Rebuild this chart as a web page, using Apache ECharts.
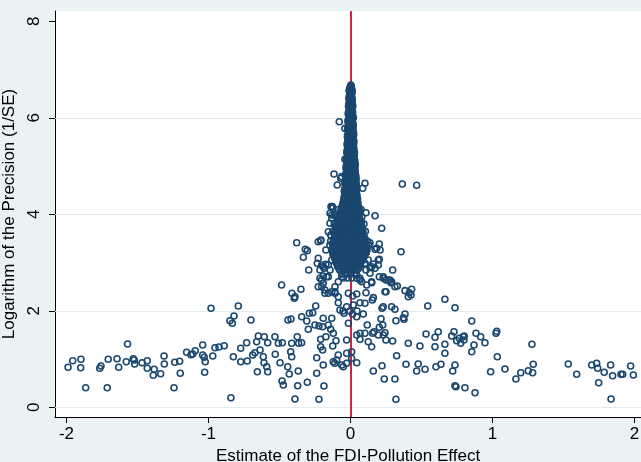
<!DOCTYPE html>
<html>
<head>
<meta charset="utf-8">
<script src="https://cdn.jsdelivr.net/npm/echarts@6/dist/echarts.min.js"></script>
<style>
html,body{margin:0;padding:0;background:#eaf2f3;}
#chart{width:641px;height:462px;}
</style>
</head>
<body>
<div id="chart"></div>
<script>
// Axis ticks
const xTicks = [-2, -1, 0, 1, 2];
const yTicks = [0, 2, 4, 6, 8];
const yGrid = [0, 2, 4, 6];

// Left tail estimates [estimate, log precision]
const leftPoints = [
[-1.989,0.829],[-1.956,0.966],[-1.898,0.995],[-1.900,0.821],[-1.865,0.406],[-1.766,0.808],[-1.757,0.856],[-1.713,0.406],
[-1.706,0.995],[-1.644,1.007],[-1.632,0.829],[-1.570,1.312],[-1.579,0.945],[-1.530,1.007],[-1.523,0.980],[-1.520,0.897],
[-1.468,0.924],[-1.431,0.966],[-1.431,0.808],[-1.389,0.663],[-1.382,0.788],[-1.337,0.696],[-1.313,1.063],[-1.311,0.897],
[-1.243,0.406],[-1.238,0.933],[-1.203,0.953],[-1.199,0.705],[-1.154,1.140],[-1.123,1.090],[-1.111,1.105],[-1.093,1.173],
[-1.041,1.291],[-1.041,1.084],[-1.030,1.036],[-1.023,0.945],[-1.027,0.725],[-0.982,2.052],[-0.970,1.063],[-0.954,1.235]
];

// Estimates left of zero, outside the dense core
const midLeftPoints = [
[-0.926,1.250],[-0.889,1.277],[-0.849,1.795],[-0.832,1.741],[-0.820,1.892],[-0.825,1.049],[-0.790,2.099],[-0.773,0.945],
[-0.773,1.223],[-0.731,1.339],[-0.727,0.960],[-0.701,1.809],[-0.689,1.084],[-0.673,1.132],[-0.661,1.360],[-0.649,1.478],
[-0.637,1.188],[-0.656,0.738],[-0.614,1.049],[-0.609,0.924],[-0.607,1.463],[-0.590,0.841],[-0.583,0.738],[-0.583,1.339],
[-0.532,1.463],[-0.530,1.098],[-0.508,1.326],[-0.496,0.924],[-0.480,1.339],[-0.482,0.545],[-0.473,0.462],[-0.842,0.199],
[-0.391,0.172],[-0.222,0.166],[-0.442,0.841],[-0.431,0.690],[-0.414,1.049],[-0.421,1.152],[-0.414,1.326],[-0.375,1.463],
[-0.365,1.326],[-0.344,1.339],[-0.372,0.448],[-0.304,0.518],[-0.368,0.752],[-0.440,1.809],[-0.419,1.830],[-0.485,2.535],
[-0.412,2.363],[-0.396,2.259],[-0.391,2.292],[-0.349,2.446],[-0.344,1.878],[-0.308,1.789],[-0.297,1.617],[-0.290,1.948],
[-0.266,1.961],[-0.245,2.099],[-0.238,0.705],[-0.238,1.028],[-0.192,0.877],[-0.187,0.441],[-0.250,1.706],[-0.222,1.685],
[-0.196,1.670],[-0.192,1.845],[-0.210,1.409],[-0.210,1.256],[-0.196,1.188],[-0.173,1.463],[-0.156,1.706],[-0.139,1.617],
[-0.132,1.845],[-0.121,1.534],[-0.102,1.380],[-0.125,1.270],[-0.121,0.945],[-0.111,0.912],[-0.097,0.980],[-0.051,0.841],
[-0.027,0.912],[-0.086,2.168],[-0.074,2.017],[-0.046,1.948],[-0.027,2.085],[-0.379,3.411],[-0.318,3.275],[-0.304,3.246],
[-0.332,3.109],[-0.294,2.846],[-0.210,3.453],[-0.173,3.260],[-0.227,3.088],[-0.234,2.984],[-0.215,2.846],[-0.192,2.914],
[-0.173,2.964],[-0.215,2.674],[-0.192,2.721],[-0.156,2.707],[-0.144,2.846],[-0.227,2.499],[-0.203,2.499],[-0.180,2.363],
[-0.132,2.396],[-0.109,2.363],[-0.156,3.639],[-0.144,3.813],[-0.132,3.986],[-0.128,4.158],[-0.116,4.835],[-0.093,4.607],
[-0.086,1.084],[-0.062,0.877],[-0.027,1.119],[-0.015,1.741],[-0.027,1.395],[-0.053,1.996],[-0.004,1.996],[0.046,1.996],
[-0.203,2.949],[-0.185,2.881],[-0.156,2.949],[-0.132,3.053],[-0.121,3.156],[-0.109,3.260],[-0.097,3.328],[-0.168,2.707],
[-0.203,2.638],[-0.192,2.570],[-0.180,2.431],[-0.156,2.363],[-0.109,2.499],[-0.086,2.603],[-0.062,2.707],[-0.039,2.777],
[-0.015,2.363],[-0.086,2.292],[-0.109,2.396],[-0.208,3.467],[-0.137,4.158],[-0.114,3.986],[-0.079,5.919],[-0.039,5.780],
[-0.039,5.140],[-0.062,4.780],[-0.069,4.746],[-0.125,4.124],[-0.144,4.020],[-0.132,3.917],[-0.139,3.571],[-0.227,3.432]
];

// Estimates right of zero, outside the dense core
const midRightPoints = [
[0.365,4.628],[0.466,4.601],[0.102,4.642],[0.086,4.539],[0.109,4.033],[0.173,3.971],[0.220,3.710],[0.203,3.385],
[0.173,3.275],[0.137,3.411],[0.356,3.225],[0.203,3.067],[0.196,2.949],[0.161,2.970],[0.137,2.902],[0.109,2.846],
[0.297,2.846],[0.203,2.707],[0.231,2.674],[0.250,2.638],[0.278,2.638],[0.285,2.582],[0.149,2.582],[0.067,2.638],
[0.044,2.674],[0.330,2.514],[0.384,2.417],[0.414,2.375],[0.431,2.446],[0.407,2.292],[0.426,2.327],[0.250,2.396],
[0.109,2.375],[0.044,2.348],[0.015,2.307],[0.154,2.224],[0.102,2.155],[0.067,2.168],[0.020,2.120],[0.222,2.052],
[0.231,2.085],[0.290,2.085],[0.313,2.031],[0.384,1.934],[0.372,1.857],[0.544,2.099],[0.665,2.238],[0.736,2.064],
[0.090,1.934],[0.044,1.878],[0.015,1.934],[0.215,1.836],[0.227,1.706],[0.203,1.658],[0.320,1.795],[0.118,1.706],
[0.854,1.789],[1.025,1.534],[1.030,1.575],[0.532,1.519],[0.595,1.451],[0.618,1.567],[0.665,1.306],[0.713,1.478],
[0.729,1.567],[0.748,1.380],[0.766,1.430],[0.776,1.326],[0.794,1.463],[0.799,1.395],[0.801,1.478],[0.884,1.534],
[0.917,1.463],[0.947,1.339],[0.870,1.291],[0.854,1.152],[0.407,1.326],[0.489,1.270],[0.595,1.256],[0.665,1.119],
[0.156,1.534],[0.165,1.567],[0.196,1.498],[0.231,1.498],[0.243,1.546],[0.250,1.395],[0.297,1.374],[0.125,1.360],
[0.149,1.256],[0.067,1.409],[0.044,1.498],[0.067,1.534],[0.102,1.534],[0.325,1.069],[0.391,0.891],[0.477,0.897],
[0.466,0.752],[0.525,0.788],[0.602,0.841],[0.637,0.891],[0.720,0.752],[0.736,0.877],[0.222,0.862],[0.161,0.752],
[0.044,0.924],[0.008,1.016],[0.008,1.152],[0.238,0.587],[0.313,0.587],[0.736,0.448],[0.743,0.427],[0.806,0.406],
[0.877,0.303],[0.320,0.166],[0.987,0.738],[1.034,1.049],[0.044,2.742],[0.067,2.674],[0.079,2.603],[0.114,2.535],
[0.149,2.603],[0.137,2.777],[0.173,2.881],[0.196,3.053],[0.208,3.260],[0.185,3.295],[0.114,3.328],[0.090,3.260],
[0.067,3.121],[0.102,2.984],[0.125,3.053],[0.149,2.914],[0.231,2.707],[0.266,2.638],[0.290,2.603],[0.313,2.499],
[0.243,2.396],[0.161,2.272],[0.377,1.824]
];

// Right tail estimates
const rightPoints = [
[1.278,1.306],[1.088,0.794],[1.165,0.587],[1.199,0.717],[1.252,0.759],[1.283,0.717],[1.287,0.891],[1.534,0.897],
[1.593,0.684],[1.699,0.877],[1.734,0.912],[1.741,0.808],[1.787,0.725],[1.748,0.510],[1.832,0.877],[1.846,0.655],
[1.905,0.684],[1.917,0.684],[1.973,0.856],[1.992,0.669],[1.835,0.172]
];

// Edge of the core, y 3.6 - 4.1
const coreEdgePoints = [
[-0.085,4.10],[0.075,4.10],[-0.100,3.95],[0.080,3.95],[-0.115,3.80],[0.095,3.80],[-0.125,3.65],[0.105,3.65]
];

// Dense core around zero: each row = [log precision, estimates...]
const coreRows = [
[6.68,0.003],
[6.60,-0.006,0.008],
[6.52,0.000,0.010],
[6.44,-0.008,0.006],
[6.36,-0.004,0.012],
[6.28,-0.012,0.002,0.014],
[6.20,-0.008,0.008],
[6.12,-0.014,0.000,0.015],
[6.04,-0.010,0.006,0.016],
[5.96,-0.016,0.000,0.014],
[5.88,-0.012,0.004,0.018],
[5.80,-0.018,-0.002,0.014],
[5.72,-0.014,0.004,0.018],
[5.64,-0.020,-0.004,0.012,0.022],
[5.56,-0.014,0.002,0.018],
[5.48,-0.022,-0.006,0.010,0.022],
[5.40,-0.016,0.000,0.016],
[5.32,-0.024,-0.008,0.008,0.022],
[5.24,-0.018,-0.002,0.014,0.026],
[5.16,-0.026,-0.010,0.006,0.022],
[5.08,-0.020,-0.004,0.012,0.028],
[5.00,-0.030,-0.012,0.004,0.020,0.030],
[4.92,-0.024,-0.006,0.012,0.028],
[4.84,-0.032,-0.016,0.002,0.020,0.032],
[4.76,-0.028,-0.010,0.008,0.026,0.036],
[4.68,-0.036,-0.020,-0.002,0.016,0.032],
[4.60,-0.032,-0.014,0.004,0.022,0.038],
[4.52,-0.040,-0.024,-0.006,0.012,0.030,0.040],
[4.44,-0.036,-0.018,0.000,0.018,0.036],
[4.36,-0.044,-0.028,-0.010,0.010,0.028,0.042],
[4.28,-0.048,-0.030,-0.012,0.006,0.024,0.042],
[4.20,-0.054,-0.034,-0.014,0.006,0.026,0.044],
[4.12,-0.062,-0.042,-0.022,-0.002,0.018,0.038,0.052],
[4.04,-0.072,-0.052,-0.032,-0.012,0.008,0.028,0.048,0.060],
[3.96,-0.080,-0.060,-0.040,-0.020,0.000,0.020,0.040,0.056],
[3.88,-0.086,-0.064,-0.042,-0.020,0.002,0.024,0.046,0.066],
[3.80,-0.092,-0.070,-0.048,-0.026,-0.004,0.018,0.040,0.062,0.076],
[3.72,-0.100,-0.078,-0.056,-0.034,-0.012,0.010,0.032,0.054,0.076],
[3.64,-0.106,-0.084,-0.062,-0.040,-0.018,0.004,0.026,0.048,0.070,0.086],
[3.56,-0.110,-0.088,-0.066,-0.044,-0.022,0.000,0.022,0.044,0.066,0.088],
[3.48,-0.116,-0.094,-0.072,-0.050,-0.028,-0.006,0.016,0.038,0.060,0.082,0.100],
[3.40,-0.120,-0.098,-0.076,-0.054,-0.032,-0.010,0.012,0.034,0.056,0.078,0.100],
[3.32,-0.124,-0.100,-0.078,-0.056,-0.034,-0.012,0.010,0.032,0.054,0.076,0.098,0.112],
[3.24,-0.126,-0.102,-0.080,-0.058,-0.036,-0.014,0.008,0.030,0.052,0.074,0.098,0.114],
[3.16,-0.120,-0.095,-0.070,-0.045,-0.020,0.005,0.030,0.055,0.080,0.100],
[3.08,-0.110,-0.085,-0.060,-0.035,-0.010,0.015,0.040,0.065,0.090],
[3.00,-0.100,-0.072,-0.044,-0.016,0.012,0.040,0.068],
[2.92,-0.090,-0.060,-0.030,0.000,0.030,0.060],
[2.84,-0.075,-0.045,-0.015,0.015,0.045],
[2.76,-0.060,-0.030,0.000,0.030],
[2.68,-0.050,-0.020,0.010]
];

// Interleaved rows of the dense core
const coreRowsB = [
[6.64,-0.002,0.006],
[6.56,-0.010,0.004,0.012],
[6.48,-0.006,0.008],
[6.40,-0.012,0.002,0.012],
[6.32,-0.008,0.006],
[6.24,-0.014,-0.002,0.010,0.016],
[6.16,-0.004,0.010],
[6.08,-0.016,-0.004,0.010],
[6.00,-0.006,0.010,0.020],
[5.92,-0.018,-0.006,0.008],
[5.84,-0.006,0.010,0.020],
[5.76,-0.020,-0.008,0.006,0.018],
[5.68,-0.008,0.010,0.022],
[5.60,-0.022,-0.010,0.006,0.018],
[5.52,-0.018,-0.002,0.014,0.024],
[5.44,-0.024,-0.008,0.008,0.022],
[5.36,-0.020,-0.004,0.012,0.024],
[5.28,-0.026,-0.010,0.004,0.018,0.028],
[5.20,-0.022,-0.006,0.010,0.026],
[5.12,-0.028,-0.012,0.004,0.020,0.030],
[5.04,-0.024,-0.008,0.008,0.024,0.034],
[4.96,-0.032,-0.016,0.000,0.016,0.032],
[4.88,-0.028,-0.012,0.006,0.022,0.034],
[4.80,-0.036,-0.020,-0.004,0.012,0.028,0.038],
[4.72,-0.032,-0.016,0.000,0.016,0.032,0.040],
[4.64,-0.040,-0.024,-0.008,0.010,0.026,0.040],
[4.56,-0.036,-0.020,-0.002,0.016,0.034,0.044],
[4.48,-0.044,-0.028,-0.010,0.008,0.026,0.042],
[4.40,-0.040,-0.022,-0.004,0.014,0.032,0.046],
[4.32,-0.046,-0.030,-0.012,0.006,0.024,0.040,0.050],
[4.24,-0.052,-0.034,-0.016,0.002,0.020,0.038,0.052],
[4.16,-0.060,-0.040,-0.020,0.000,0.020,0.040,0.056],
[4.08,-0.068,-0.048,-0.028,-0.008,0.012,0.032,0.052,0.064],
[4.00,-0.078,-0.058,-0.038,-0.018,0.002,0.022,0.042,0.060],
[3.92,-0.084,-0.062,-0.040,-0.018,0.004,0.026,0.048,0.064],
[3.84,-0.090,-0.068,-0.046,-0.024,-0.002,0.020,0.042,0.064,0.078],
[3.76,-0.098,-0.076,-0.054,-0.032,-0.010,0.012,0.034,0.056,0.078],
[3.68,-0.104,-0.082,-0.060,-0.038,-0.016,0.006,0.028,0.050,0.072,0.086],
[3.60,-0.110,-0.088,-0.066,-0.044,-0.022,0.000,0.022,0.044,0.066,0.088],
[3.52,-0.114,-0.092,-0.070,-0.048,-0.026,-0.004,0.018,0.040,0.062,0.084,0.100],
[3.44,-0.140,-0.120,-0.098,-0.076,-0.054,-0.032,-0.010,0.012,0.034,0.056,0.078,0.100,0.120],
[3.36,-0.145,-0.124,-0.102,-0.080,-0.058,-0.036,-0.014,0.008,0.030,0.052,0.074,0.096,0.112,0.130],
[3.28,-0.128,-0.104,-0.082,-0.060,-0.038,-0.016,0.006,0.028,0.050,0.072,0.094,0.116],
[3.20,-0.124,-0.100,-0.076,-0.052,-0.028,-0.004,0.020,0.044,0.068,0.092,0.110],
[3.12,-0.114,-0.090,-0.066,-0.042,-0.018,0.006,0.030,0.054,0.078,0.096],
[3.04,-0.104,-0.080,-0.056,-0.032,-0.008,0.016,0.040,0.064,0.084],
[2.96,-0.094,-0.066,-0.038,-0.010,0.018,0.046,0.070],
[2.88,-0.082,-0.054,-0.026,0.002,0.030,0.058]
];

const corePoints = [];
coreRows.concat(coreRowsB).forEach(function (row) {
  for (let i = 1; i < row.length; i++) corePoints.push([row[i], row[0]]);
});

const allPoints = leftPoints.concat(midLeftPoints, midRightPoints, rightPoints, coreEdgePoints, corePoints);

const FONT = 'Liberation Sans, Arial, sans-serif';
const chart = echarts.init(document.getElementById('chart'), null, {renderer: 'canvas'});
chart.setOption({
  backgroundColor: '#eaf2f3',
  animation: false,
  grid: {left: 55, right: 0, top: 11, bottom: 45, show: true, backgroundColor: '#ffffff', borderWidth: 0,
    containLabel: false, outerBoundsMode: 'none'},
  xAxis: {
    type: 'value', min: -2.081, max: 2.046,
    name: 'Estimate of the FDI-Pollution Effect', nameLocation: 'middle', nameGap: 29,
    nameTextStyle: {fontFamily: FONT, fontSize: 17, color: '#000'},
    axisLine: {show: true, onZero: false, lineStyle: {color: '#000', width: 1}},
    axisTick: {show: true, length: 6, customValues: xTicks, lineStyle: {color: '#000'}},
    axisLabel: {customValues: xTicks, fontFamily: FONT, fontSize: 17, color: '#000', margin: 9},
    splitLine: {show: false}
  },
  yAxis: {
    type: 'value', min: -0.201, max: 8.213,
    name: 'Logarithm of the Precision (1/SE)', nameLocation: 'middle', nameGap: 28,
    nameTextStyle: {fontFamily: FONT, fontSize: 17, color: '#000'},
    axisLine: {show: true, onZero: false, lineStyle: {color: '#000', width: 1}},
    axisTick: {show: true, length: 6, customValues: yTicks, lineStyle: {color: '#000'}},
    axisLabel: {customValues: yTicks, rotate: 90, fontFamily: FONT, fontSize: 17, color: '#000', margin: 12},
    splitLine: {show: false}
  },
  series: [
    {
      type: 'line', data: [], z: 1, silent: true,
      markLine: {
        z: 1, silent: true, symbol: 'none', animation: false, label: {show: false},
        lineStyle: {color: '#e3edf0', width: 1, type: 'solid'},
        data: yGrid.map(function (v) { return {yAxis: v}; })
      }
    },
    {
      type: 'line', data: [], z: 2, silent: true,
      markLine: {
        z: 2, silent: true, symbol: 'none', animation: false, label: {show: false},
        lineStyle: {color: '#cc2549', width: 2, type: 'solid'},
        data: [{xAxis: 0}]
      }
    },
    {
      type: 'scatter', z: 3, data: allPoints, symbol: 'circle', symbolSize: 6,
      itemStyle: {color: 'rgba(0,0,0,0)', borderColor: '#1a476f', borderWidth: 1.6, opacity: 1}
    }
  ]
});
</script>
</body>
</html>
